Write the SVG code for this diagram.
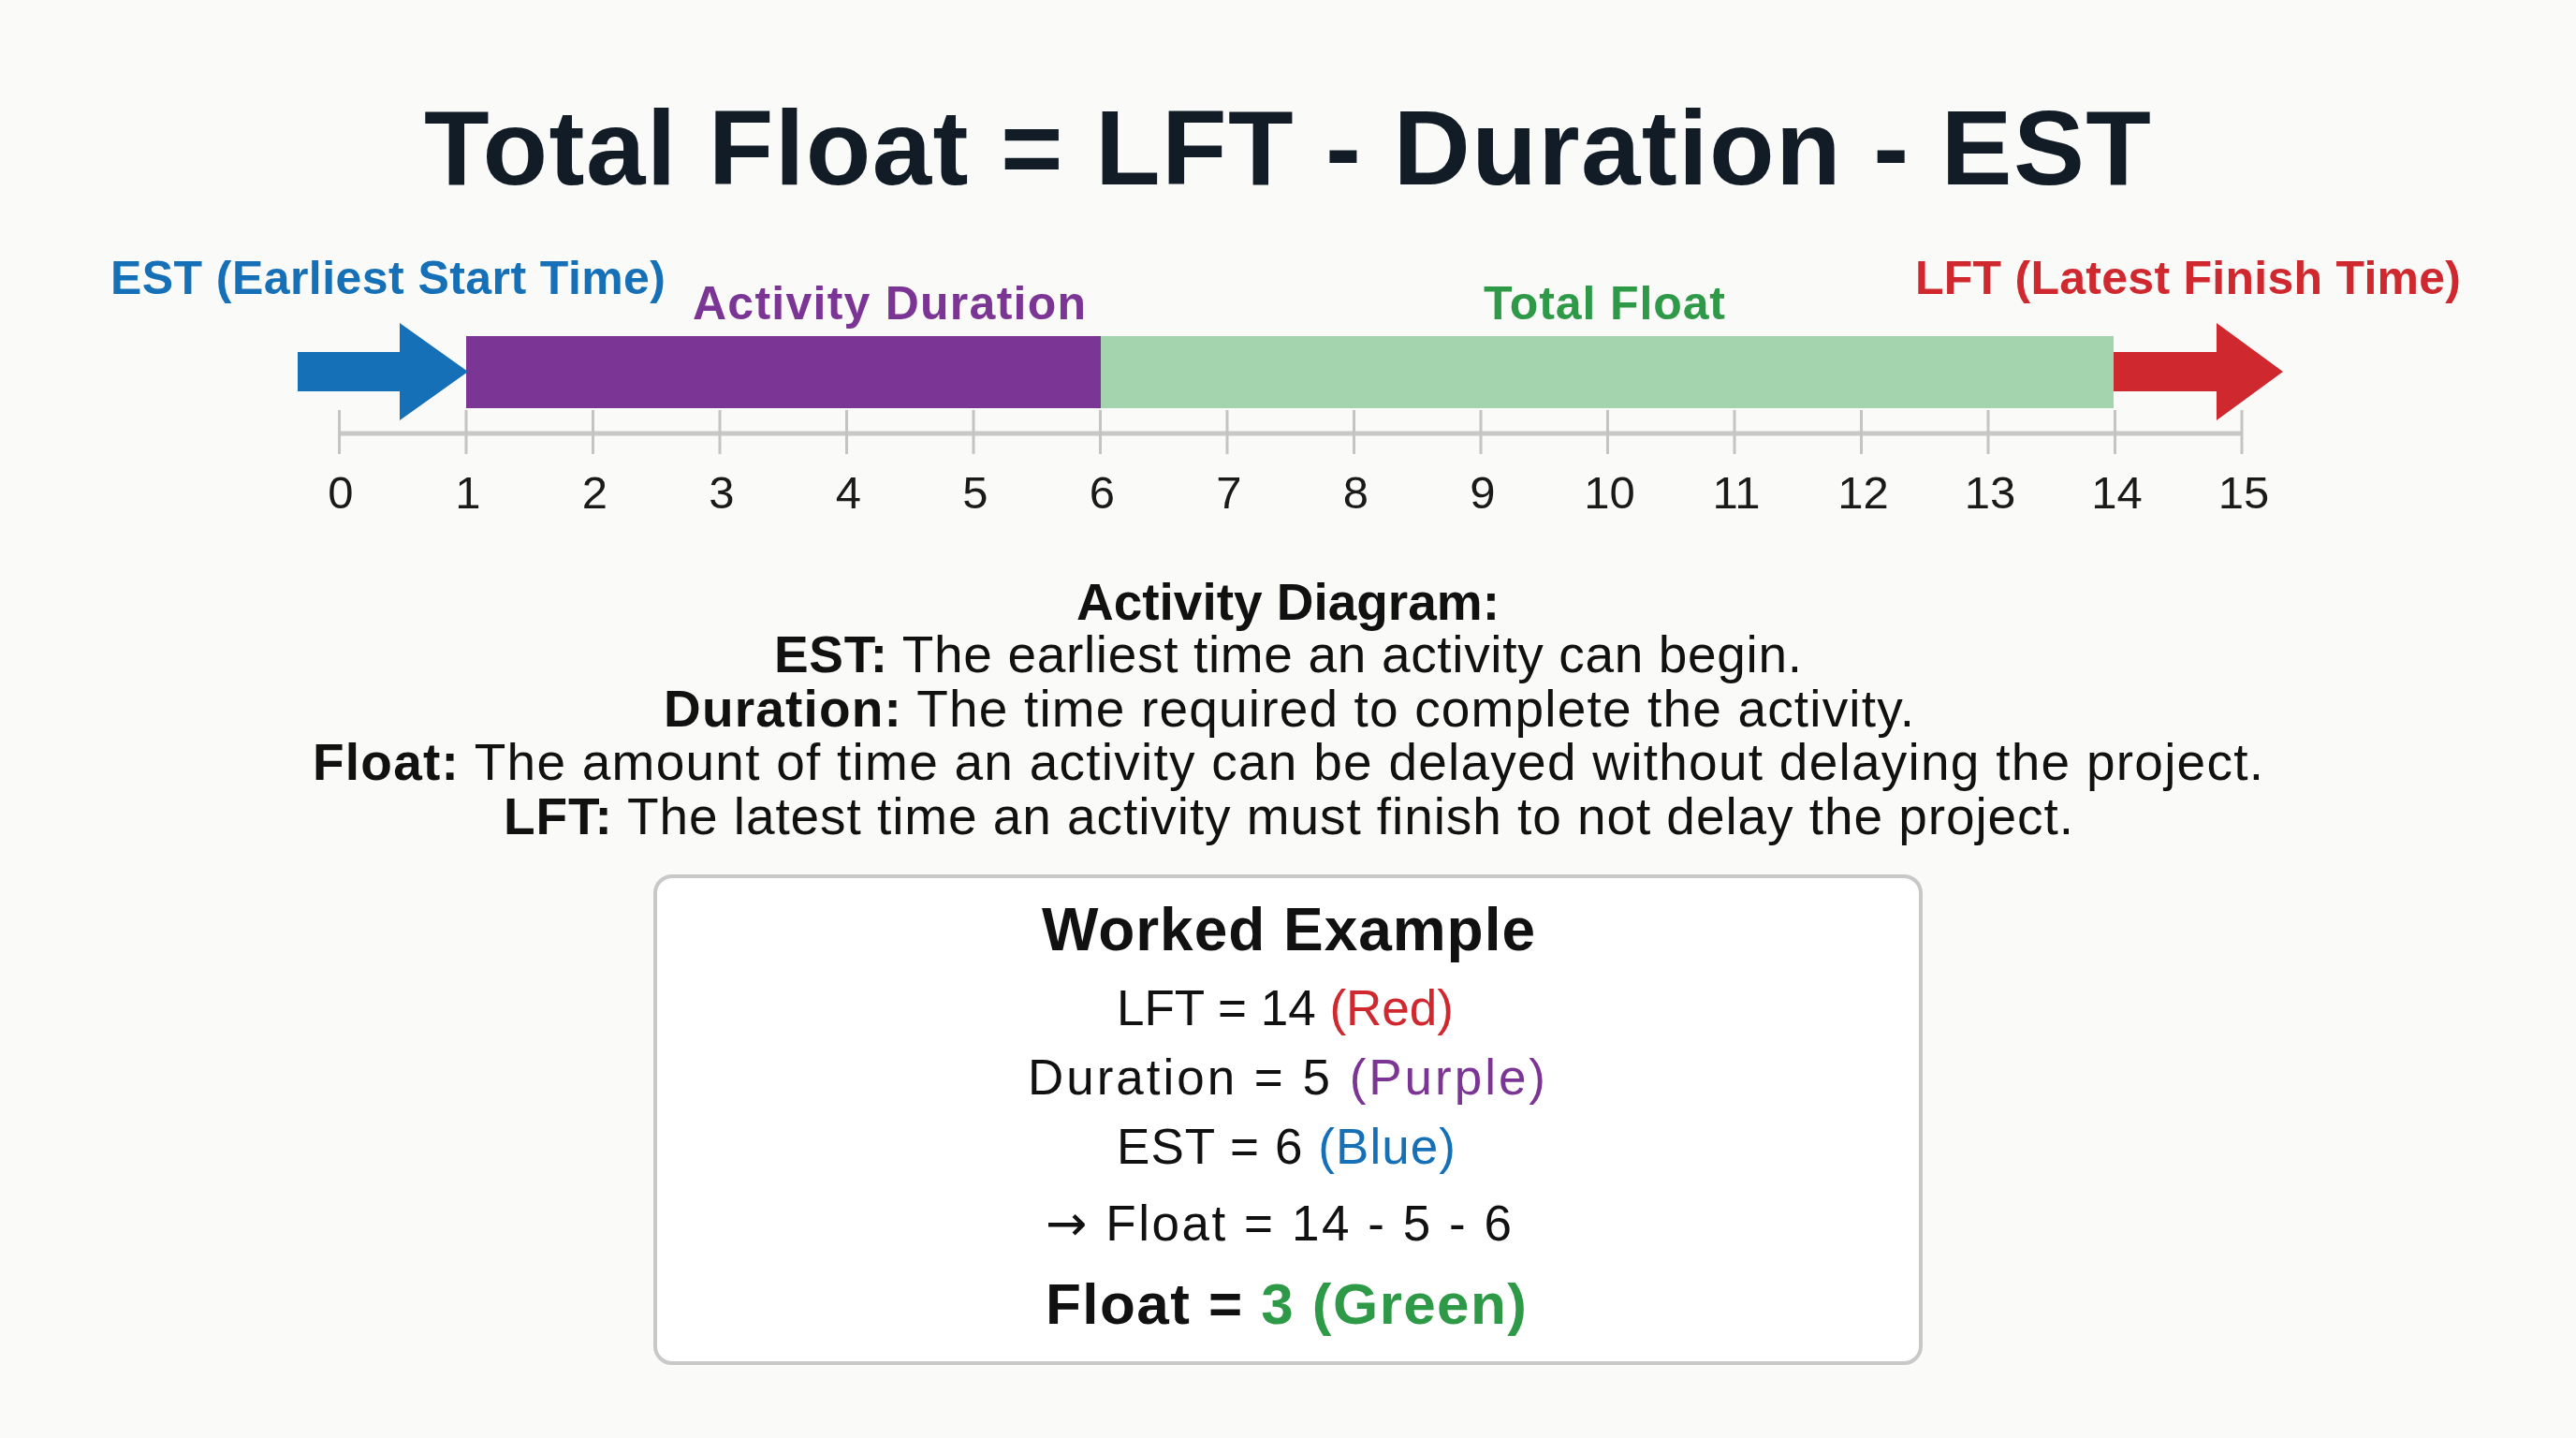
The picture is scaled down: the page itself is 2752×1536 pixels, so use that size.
<svg xmlns="http://www.w3.org/2000/svg" width="2752" height="1536" viewBox="0 0 2752 1536">
<style>
text{font-family:"Liberation Sans",Arial,sans-serif;}
.title{font-size:114px;font-weight:700;fill:#121c26;}
.lbl{font-size:50px;font-weight:700;}
.num{font-size:49px;fill:#1a1a1a;text-anchor:middle;}
.def{font-size:55px;fill:#111;}
.b{font-weight:700;}
.ex{font-size:53px;fill:#111;}
.arr{font-family:"DejaVu Sans",sans-serif;}
.tick{stroke:#c4c4c4;stroke-width:3;}
.blue{fill:#1570b7;}
.red{fill:#cf282e;}
.purple{fill:#7b3594;}
.green{fill:#2e9a48;}
</style>
<rect width="2752" height="1536" fill="#fafaf8"/>
<g id="title">
<text class="title" x="453" y="197" textLength="1845">Total Float = LFT - Duration - EST</text>
</g>
<g id="axis">
<line x1="362" y1="463" x2="2394" y2="463" stroke="#c8c8c8" stroke-width="5"/>
<line class="tick" x1="362.5" y1="438" x2="362.5" y2="485"/>
<line class="tick" x1="498" y1="438" x2="498" y2="485"/>
<line class="tick" x1="633.5" y1="438" x2="633.5" y2="485"/>
<line class="tick" x1="769" y1="438" x2="769" y2="485"/>
<line class="tick" x1="904.5" y1="438" x2="904.5" y2="485"/>
<line class="tick" x1="1040" y1="438" x2="1040" y2="485"/>
<line class="tick" x1="1175.5" y1="438" x2="1175.5" y2="485"/>
<line class="tick" x1="1311" y1="438" x2="1311" y2="485"/>
<line class="tick" x1="1446.5" y1="438" x2="1446.5" y2="485"/>
<line class="tick" x1="1582" y1="438" x2="1582" y2="485"/>
<line class="tick" x1="1717.5" y1="438" x2="1717.5" y2="485"/>
<line class="tick" x1="1853" y1="438" x2="1853" y2="485"/>
<line class="tick" x1="1988.5" y1="438" x2="1988.5" y2="485"/>
<line class="tick" x1="2124" y1="438" x2="2124" y2="485"/>
<line class="tick" x1="2259.5" y1="438" x2="2259.5" y2="485"/>
<line class="tick" x1="2395" y1="438" x2="2395" y2="485"/>
<text class="num" x="364" y="543">0</text>
<text class="num" x="500" y="543">1</text>
<text class="num" x="635.5" y="543">2</text>
<text class="num" x="771" y="543">3</text>
<text class="num" x="906.5" y="543">4</text>
<text class="num" x="1042" y="543">5</text>
<text class="num" x="1177.5" y="543">6</text>
<text class="num" x="1313" y="543">7</text>
<text class="num" x="1448.5" y="543">8</text>
<text class="num" x="1584" y="543">9</text>
<text class="num" x="1719.5" y="543">10</text>
<text class="num" x="1855" y="543">11</text>
<text class="num" x="1990.5" y="543">12</text>
<text class="num" x="2126" y="543">13</text>
<text class="num" x="2261.5" y="543">14</text>
<text class="num" x="2397" y="543">15</text>
</g>
<g id="activity-bar">
<rect x="498" y="359" width="678" height="77" fill="#7b3594"/>
</g>
<g id="float-bar">
<rect x="1176" y="359" width="1082" height="77" fill="#a3d4ad"/>
</g>
<g id="connectors">
<polygon class="blue" points="318,376 427,376 427,345 500,397 427,449 427,418 318,418"/>
<polygon class="red" points="2258,376 2368,376 2368,345 2439,397 2368,449 2368,418 2258,418"/>
</g>
<g id="labels">
<text class="lbl blue" x="118" y="314" textLength="593">EST (Earliest Start Time)</text>
<text class="lbl purple" x="740" y="341" textLength="420">Activity Duration</text>
<text class="lbl green" x="1585" y="341" textLength="258">Total Float</text>
<text class="lbl red" x="2046" y="314" textLength="583">LFT (Latest Finish Time)</text>
</g>
<g id="definitions">
<text class="def b" x="1150" y="662" textLength="452">Activity Diagram:</text>
<text class="def" x="827" y="718" textLength="1098"><tspan class="b">EST:</tspan> The earliest time an activity can begin.</text>
<text class="def" x="709" y="776" textLength="1336"><tspan class="b">Duration:</tspan> The time required to complete the activity.</text>
<text class="def" x="334" y="833" textLength="2084"><tspan class="b">Float:</tspan> The amount of time an activity can be delayed without delaying the project.</text>
<text class="def" x="538" y="891" textLength="1677"><tspan class="b">LFT:</tspan> The latest time an activity must finish to not delay the project.</text>
</g>
<g id="worked-example">
<rect x="700" y="936" width="1352" height="520" rx="18" fill="#ffffff" stroke="#c8c8c8" stroke-width="4"/>
<text class="b" x="1113" y="1015" font-size="64" fill="#111" textLength="527">Worked Example</text>
<text class="ex" x="1193" y="1095" textLength="360">LFT = 14 <tspan class="red">(Red)</tspan></text>
<text class="ex" x="1098" y="1169" textLength="553">Duration = 5 <tspan class="purple">(Purple)</tspan></text>
<text class="ex" x="1193" y="1243" textLength="362">EST = 6 <tspan class="blue">(Blue)</tspan></text>
<text class="ex" x="1117" y="1325" textLength="498"><tspan class="arr">→</tspan> Float = 14 - 5 - 6</text>
<text class="b" x="1117" y="1414" font-size="62" fill="#111" textLength="514">Float = <tspan class="green">3 (Green)</tspan></text>
</g>
</svg>
